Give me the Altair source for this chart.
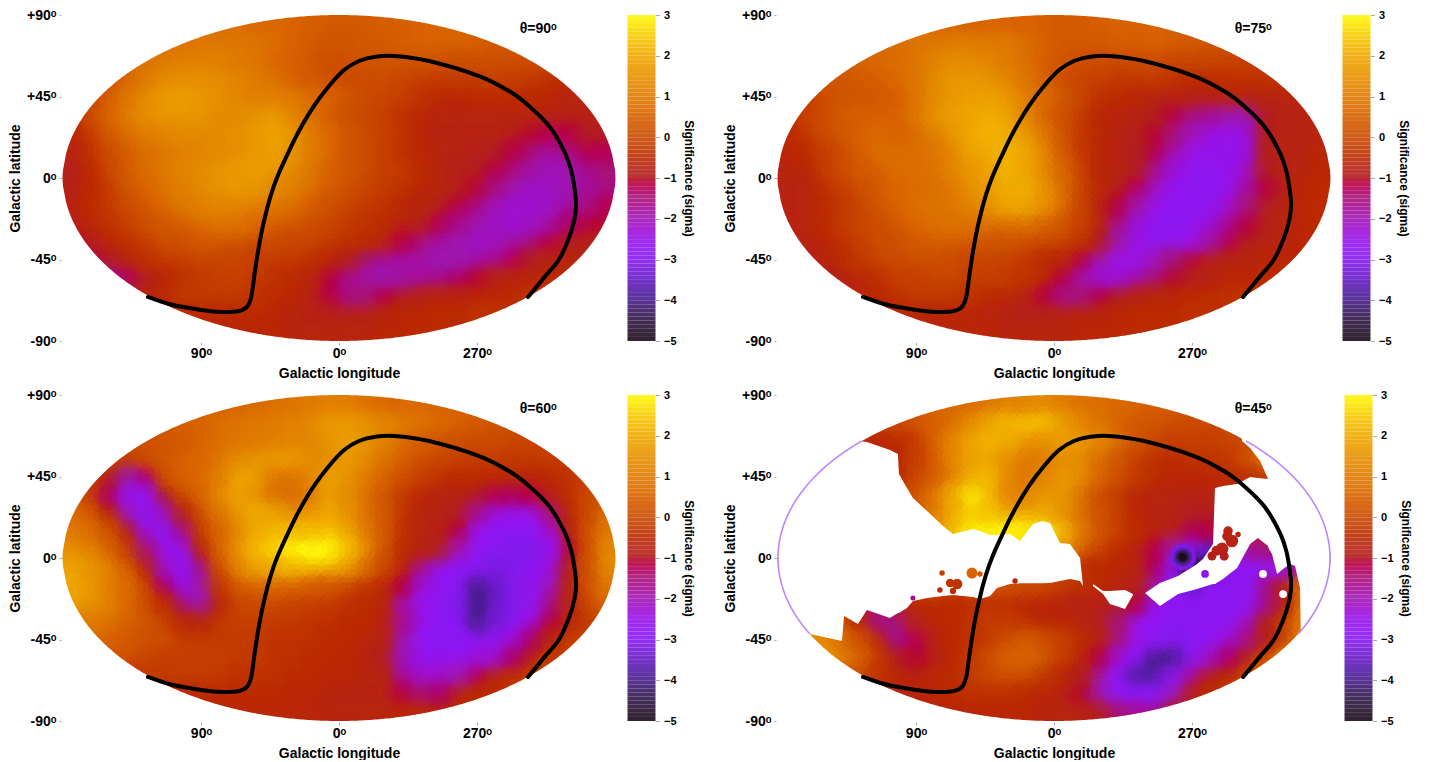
import altair as alt
import numpy as np
import pandas as pd

FONT = "Liberation Sans"
panel1 = [
[0.7,0.7,0.6,0.6,0.5,0.4,0.3,0.3,0.3,0.4,0.4,0.5,0.5,0.5],
[0.7,0.8,0.9,0.9,0.9,0.8,0.7,0.5,0.3,0.2,0.2,0.3,0.3,0.4,0.5,0.5,0.5,0.4,0.3,0.2],
[0.5,0.8,1.0,1.1,1.1,1.1,1.0,0.9,0.6,0.4,0.2,0.1,0.1,0.2,0.2,0.2,0.2,0.1,0.1,0.1,0.1,0.1,0,-0.1],
[0.2,0.6,1.0,1.3,1.4,1.4,1.3,1.2,1.0,0.8,0.5,0.3,0.1,0,0,0,-0.1,-0.2,-0.3,-0.3,-0.3,-0.2,-0.2,-0.3,-0.4,-0.5],
[-0.1,0.4,0.9,1.3,1.6,1.7,1.6,1.4,1.2,1.1,1.1,1,0.7,0.4,0.2,0,-0.1,-0.2,-0.4,-0.5,-0.6,-0.5,-0.5,-0.5,-0.5,-0.6,-0.7,-0.7],
[-0.4,0,0.5,1,1.4,1.6,1.6,1.5,1.3,1.3,1.5,1.6,1.2,0.8,0.4,0.1,-0.1,-0.2,-0.4,-0.6,-0.7,-0.7,-0.7,-0.7,-0.7,-0.7,-0.8,-0.8,-0.8,-0.9],
[-0.6,-0.2,0.3,0.7,1,1.2,1.3,1.3,1.3,1.4,1.6,1.8,1.5,1,0.6,0.2,0,-0.2,-0.4,-0.6,-0.8,-0.8,-0.8,-0.8,-0.9,-1.1,-1.3,-1.2,-1,-1],
[-0.8,-0.4,0.1,0.4,0.7,0.9,1.1,1.2,1.3,1.4,1.6,1.7,1.5,1,0.6,0.2,0,-0.2,-0.4,-0.6,-0.7,-0.8,-0.9,-1,-1.2,-1.6,-1.8,-1.6,-1.3,-1.3],
[-0.9,-0.5,-0.1,0.3,0.7,1,1.2,1.3,1.5,1.6,1.7,1.6,1.3,0.9,0.5,0.2,0,-0.2,-0.3,-0.5,-0.7,-0.9,-1,-1.2,-1.6,-1.9,-2.1,-2,-1.7,-1.5],
[-0.9,-0.5,-0.2,0.2,0.5,0.8,1.1,1.3,1.5,1.6,1.5,1.3,1.1,0.7,0.4,0.1,-0.1,-0.3,-0.4,-0.6,-0.7,-0.9,-1.1,-1.6,-2,-2.2,-2.2,-2,-1.8,-1.6],
[-0.8,-0.5,-0.3,0,0.3,0.6,0.9,1.1,1.2,1.2,1.1,0.9,0.7,0.4,0.1,-0.1,-0.3,-0.4,-0.6,-0.7,-0.9,-1.2,-1.7,-2.1,-2.3,-2.3,-2.2,-1.9,-1.6,-1.3],
[-0.9,-0.6,-0.4,-0.2,0.1,0.3,0.5,0.7,0.8,0.8,0.6,0.4,0.3,0,-0.1,-0.3,-0.4,-0.5,-0.7,-0.9,-1.3,-1.7,-2,-2.2,-2.3,-2.2,-1.9,-1.4,-1.2,-1.1],
[-1.1,-0.9,-0.6,-0.4,-0.2,0,0.1,0.3,0.3,0.2,0.1,0,-0.1,-0.1,-0.3,-0.4,-0.5,-0.7,-1.2,-1.6,-1.9,-2,-2.2,-2.1,-1.9,-1.6,-1.2,-1,-0.9,-0.9],
[-1.3,-1.0,-0.7,-0.4,-0.3,-0.2,-0.1,-0.1,-0.1,-0.2,-0.3,-0.3,-0.4,-0.6,-1,-1.5,-1.8,-1.9,-1.9,-2,-2,-1.9,-1.7,-1.3,-1,-0.8,-0.7,-0.7],
[-1.6,-1.4,-1,-0.6,-0.4,-0.3,-0.2,-0.2,-0.3,-0.4,-0.5,-0.7,-1.2,-1.7,-1.9,-2,-1.9,-1.8,-1.7,-1.4,-1.1,-0.8,-0.7,-0.6,-0.5,-0.5],
[-1.0,-0.8,-0.5,-0.3,-0.3,-0.3,-0.3,-0.4,-0.5,-0.6,-0.8,-1.2,-1.6,-1.5,-1.2,-1,-0.9,-0.8,-0.7,-0.6,-0.6,-0.5,-0.4,-0.4],
[-0.7,-0.6,-0.5,-0.5,-0.5,-0.5,-0.6,-0.7,-0.8,-0.9,-0.9,-0.8,-0.7,-0.6,-0.6,-0.5,-0.5,-0.4,-0.4,-0.4],
[-0.7,-0.7,-0.6,-0.6,-0.7,-0.7,-0.7,-0.7,-0.7,-0.6,-0.6,-0.5,-0.5,-0.5],
]
panel2 = [
[0.5,0.5,0.5,0.5,0.5,0.5,0.4,0.3,0.3,0.4,0.5,0.5,0.5,0.5],
[0.6,0.7,0.8,0.9,1,1,1,0.9,0.7,0.5,0.3,0.3,0.3,0.4,0.4,0.5,0.4,0.3,0.2,0.1],
[0.4,0.5,0.6,0.7,0.9,1.1,1.3,1.3,1.2,1,0.7,0.4,0.2,0.1,0,0,0,0,-0.1,-0.1,-0.1,-0.1,-0.2,-0.2],
[0.2,0.2,0.3,0.4,0.6,0.9,1.3,1.6,1.6,1.5,1.2,0.8,0.4,0.1,-0.1,-0.2,-0.3,-0.3,-0.3,-0.4,-0.5,-0.5,-0.4,-0.4,-0.4,-0.4],
[-0.3,0,0.2,0.2,0.3,0.4,0.8,1.3,1.6,1.7,1.8,1.6,1.1,0.6,0.2,-0.1,-0.4,-0.5,-0.6,-0.7,-0.8,-0.9,-0.9,-0.8,-0.7,-0.7,-0.7,-0.7],
[-0.4,-0.2,0,0.3,0.4,0.4,0.5,0.9,1.4,1.7,1.9,2,1.8,1.2,0.6,0.1,-0.3,-0.6,-0.7,-0.8,-1,-1.2,-1.5,-1.8,-2,-2,-1,-0.8,-0.8,-0.7],
[-0.5,-0.3,0,0.2,0.5,0.6,0.5,0.7,1.1,1.5,1.9,2.1,2,1.6,0.9,0.2,-0.3,-0.6,-0.8,-0.9,-1.1,-1.5,-2.1,-2.4,-2.5,-2.4,-1,-0.8,-0.8,-0.7],
[-0.6,-0.5,-0.2,0.1,0.4,0.7,0.7,0.7,0.9,1.3,1.8,2,2.1,1.8,1.1,0.3,-0.3,-0.6,-0.8,-1,-1.3,-1.9,-2.5,-2.7,-2.7,-2.4,-1,-0.8,-0.8,-0.6],
[-0.7,-0.6,-0.3,0,0.3,0.5,0.7,0.7,0.8,1.2,1.6,1.9,2.1,1.9,1.3,0.5,-0.2,-0.6,-0.8,-1,-1.6,-2.4,-2.8,-2.8,-2.7,-2.2,-1,-0.8,-0.7,-0.6],
[-0.8,-0.7,-0.4,-0.2,0.1,0.3,0.6,0.7,0.7,1,1.4,1.7,2,2,1.5,0.7,-0.1,-0.6,-0.9,-1.3,-2.2,-2.7,-2.9,-2.9,-2.6,-1.9,-1.2,-0.9,-0.6,-0.5],
[-0.8,-0.7,-0.5,-0.3,-0.1,0.2,0.5,0.7,0.8,0.9,1.2,1.5,1.8,1.9,1.4,0.6,-0.1,-0.7,-1.2,-2,-2.6,-2.9,-2.9,-2.8,-2.3,-1.5,-1,-0.8,-0.6,-0.5],
[-0.8,-0.7,-0.5,-0.3,-0.1,0.1,0.3,0.6,0.7,0.8,0.8,0.8,0.9,0.8,0.5,0.2,-0.2,-0.8,-1.6,-2.4,-2.8,-2.9,-2.8,-2.4,-1.7,-1.2,-0.9,-0.7,-0.6,-0.5],
[-0.8,-0.7,-0.6,-0.4,-0.2,0,0.1,0.3,0.4,0.4,0.3,0.2,0.2,0.1,0,-0.1,-0.4,-1,-2,-2.6,-2.8,-2.8,-2.5,-1.9,-1.3,-1,-0.8,-0.7,-0.6,-0.6],
[-0.9,-0.7,-0.5,-0.3,-0.1,0,0.1,0.1,0,-0.1,-0.1,-0.2,-0.3,-0.5,-0.7,-1.2,-2,-2.5,-2.5,-2.1,-1.5,-1.1,-0.9,-0.8,-0.7,-0.6,-0.6,-0.6],
[-1,-0.8,-0.6,-0.4,-0.2,-0.2,-0.1,-0.1,-0.2,-0.2,-0.3,-0.4,-0.6,-1.2,-1.9,-2.3,-2.3,-1.9,-1.5,-1.1,-0.9,-0.8,-0.6,-0.6,-0.5,-0.5],
[-0.9,-0.7,-0.5,-0.4,-0.3,-0.3,-0.3,-0.4,-0.5,-0.6,-0.8,-1.2,-1.6,-1.5,-1.2,-1,-0.9,-0.7,-0.6,-0.5,-0.5,-0.4,-0.4,-0.4],
[-0.7,-0.6,-0.6,-0.6,-0.6,-0.6,-0.7,-0.8,-0.9,-0.9,-0.8,-0.7,-0.7,-0.6,-0.5,-0.5,-0.5,-0.4,-0.4,-0.4],
[-0.7,-0.7,-0.6,-0.6,-0.7,-0.7,-0.7,-0.7,-0.6,-0.6,-0.6,-0.5,-0.5,-0.5],
]
panel3 = [
[0.4,0.5,0.6,0.7,0.8,1,1.1,1,0.8,0.6,0.6,0.6,0.5,0.5],
[0.3,0.4,0.5,0.7,0.8,0.9,1,1.1,1.3,1.6,1.6,1.4,1.2,1,0.8,0.6,0.5,0.3,0.2,0.1],
[0,0.1,0.2,0.3,0.5,0.7,0.9,1,1.1,1.2,1.2,1.5,1.7,1.5,1.1,0.7,0.4,0.2,0.1,0,0,-0.1,-0.1,-0.2],
[-0.2,-0.2,0,0.2,0.4,0.6,0.9,1.3,1.5,1.6,1.6,1.3,1.4,1.6,1.3,0.8,0.4,0.1,-0.1,-0.2,-0.3,-0.3,-0.3,-0.3,-0.3,-0.3],
[-0.3,-1,-2,-1.4,0,0.4,0.6,1.1,1.8,1.7,0.9,0.8,1.2,1.7,1.5,1,0.5,0.1,-0.2,-0.4,-0.5,-0.5,-0.6,-0.6,-0.6,-0.5,-0.4,-0.2],
[0.2,-0.2,-1.4,-2.6,-2.6,-1,0,0.5,1.2,1.8,1.4,0.8,0.7,1.1,1.7,1.3,0.7,0.2,-0.3,-0.6,-0.7,-0.8,-1,-1.3,-1.4,-1.2,-0.8,-0.4,-0.1,0.3],
[0.6,0.2,-0.5,-2,-2.8,-2.2,-0.7,0.2,0.8,1.5,2,1.7,1.4,1.6,1.9,1.5,0.8,0.2,-0.4,-0.7,-0.8,-1,-1.8,-2.4,-2.5,-2.5,-1.6,-0.6,0,0.7],
[1,0.7,0.1,-1,-2.4,-2.8,-1.8,-0.3,0.6,1.3,1.9,2.2,2.2,2.2,2.3,1.9,1,0.3,-0.4,-0.7,-0.9,-1.2,-2.6,-2.9,-3,-2.9,-2.3,-0.9,0.1,1],
[1.4,1.1,0.6,-0.2,-1.5,-2.6,-2.6,-0.8,0.4,1.4,2.2,2.6,2.9,3,2.9,2.2,1.2,0.2,-0.5,-0.8,-1,-2.1,-2.9,-3,-3.1,-3.1,-2.6,-1.1,0.1,1.2],
[1.8,1.5,1,0.4,-0.7,-2.2,-2.7,-1.5,0.1,1.1,1.7,2,2.2,2.3,2.2,1.6,0.7,-0.1,-0.7,-1.6,-2.7,-3,-3,-3.2,-3.1,-3,-2.4,-1,0.2,1.3],
[1.9,1.6,1.1,0.6,-0.2,-1.4,-2.4,-2,-0.3,0.4,0.6,0.6,0.5,0.4,0.3,0,-0.3,-0.6,-1.2,-2.4,-2.8,-3,-4,-3.5,-3.1,-2.7,-2,-0.8,0.1,0.9],
[1.7,1.5,1.1,0.6,0.1,-0.5,-1.6,-2,-0.7,-0.1,0,0,-0.1,-0.2,-0.3,-0.4,-0.5,-0.7,-1.9,-2.6,-2.9,-3.2,-4.1,-3.5,-3.1,-2.8,-1.7,-0.7,0,0.5],
[1.2,1,0.8,0.5,0.2,-0.1,-0.6,-0.7,-0.3,-0.2,-0.2,-0.3,-0.3,-0.4,-0.4,-0.5,-0.5,-0.8,-1.8,-2.7,-2.9,-3,-4,-3.3,-3,-2.4,-1.2,-0.7,-0.3,0],
[0.7,0.5,0.3,0.1,0,-0.2,-0.3,-0.3,-0.3,-0.3,-0.4,-0.4,-0.4,-0.5,-0.5,-0.7,-0.8,-2,-2.8,-3,-3,-2.9,-2.8,-2.4,-1.4,-0.6,-0.2,-0.2],
[0.2,0.1,-0.1,-0.2,-0.2,-0.2,-0.2,-0.3,-0.3,-0.4,-0.4,-0.5,-0.5,-0.6,-0.7,-1,-2.2,-2.7,-2.7,-2.6,-2.4,-2.3,-1.4,-0.6,-0.3,-0.3],
[-0.4,-0.3,-0.3,-0.3,-0.3,-0.3,-0.4,-0.4,-0.4,-0.5,-0.5,-0.6,-0.6,-0.7,-0.8,-1.8,-2.3,-2.3,-2,-1.3,-0.7,-0.4,-0.3,-0.3],
[-0.6,-0.6,-0.5,-0.5,-0.5,-0.5,-0.5,-0.6,-0.6,-0.7,-0.8,-0.8,-0.8,-1.2,-1.5,-1.4,-0.7,-0.5,-0.5,-0.4],
[-0.7,-0.6,-0.6,-0.6,-0.6,-0.6,-0.7,-0.7,-0.7,-0.7,-0.6,-0.6,-0.6,-0.5],
]
panel4 = [
[0.6,0.6,0.6,0.9,1.1,1.2,1.3,1,0.8,0.7,0.6,0.5,0.4,0.4],
[-0.1,0,0.2,0.4,0.7,1.3,1.8,2.1,2.3,2.2,1.7,1.2,0.8,0.5,0.3,0.2,0.1,0,0,0],
[-0.7,-0.7,-0.6,-0.5,-0.2,0.4,1.2,1.8,2.1,2,1.6,1.4,1.7,1.6,1.2,0.7,0.2,-0.1,-0.2,-0.2,-0.2,-0.1,0,0.1],
[-0.8,-0.8,-0.8,-0.8,-0.6,-0.2,0.4,1.2,1.8,1.9,1.4,1,1.1,1.4,1.3,0.7,0.2,-0.2,-0.4,-0.5,-0.4,-0.4,-0.3,0.2,0.6,0.4],
[-0.8,-0.8,-0.8,-0.8,-0.7,-0.5,-0.1,0.4,1.2,2,2.2,1.3,0.9,1.2,1.6,1.3,0.6,0.1,-0.3,-0.5,-0.6,-0.6,-0.6,-0.5,-0.4,-0.3,-0.2,0],
[-0.8,-0.8,-0.8,-0.8,-0.8,-0.7,-0.3,0.2,0.9,2,2.8,2.2,1.2,1.2,1.6,1.5,0.7,0.1,-0.3,-0.6,-0.7,-0.7,-0.8,-0.8,-0.8,-0.7,-0.6,-0.4,-0.2,0],
[-0.8,-0.8,-0.8,-0.6,-0.5,-0.5,-0.2,0.3,1,2,2.5,2.3,1.9,1.9,2,1.5,0.8,0.1,-0.2,-0.6,-0.8,-0.8,-1,-1,-1,-0.7,-0.6,-0.4,-0.2,0],
[0,0,0,0,0.3,0.5,0.5,1,1.6,2.3,2.8,2.9,2.9,2.8,2.8,2.2,1,0.2,-0.2,-0.5,-0.8,-0.9,-1.4,-1.2,-1,-0.7,-0.5,-0.5,-0.5,-0.5],
[0,0,0,0,0.3,0.5,0.5,0.8,1.5,2,2.3,2.7,2.5,2.3,2.4,1.5,0.5,-0.1,-0.5,-0.7,-1.2,-2,-3,-3.6,-2.6,-1.9,-1.5,-1.2,-1,-0.7],
[0.5,0.4,0.2,0.2,0.3,0.4,0.5,0.5,0.5,0.4,0.4,0.3,0.2,0.1,0,-0.2,-0.4,-0.5,-0.6,-0.7,-1.4,-2.8,-4.8,-3.8,-2.7,-2.8,-2.9,-2.5,-1.5,-0.7],
[0.6,0.4,0.2,0,-0.2,-0.6,0,0.3,0.2,0.2,0.2,0.1,0.1,0,-0.1,-0.3,-0.4,-0.5,-0.7,-0.9,-2,-3,-3.5,-2.9,-2.9,-2.9,-1.6,-1,0.8,1.5],
[0.7,0.5,0.2,-0.2,-0.8,-1.5,-0.8,-0.5,-0.5,-0.5,-0.4,-0.4,-0.4,-0.6,-0.6,-0.7,-0.8,-0.9,-1,-1.2,-2.7,-2.9,-3,-3,-2.9,-2.8,-1.8,-0.8,1,1.5],
[1,0.8,0.5,0,-0.8,-1.6,-1.5,-0.8,-0.6,-0.5,-0.4,-0.3,-0.3,-0.4,-0.6,-0.6,-0.7,-0.9,-1.5,-2.5,-2.9,-3,-3,-2.9,-2.8,-2.2,-1,-0.2,1,1.5],
[1.6,1.2,0.7,0.1,-0.7,-1.7,-1.3,-0.8,-0.5,-0.4,-0.2,0.1,0.3,0.1,-0.2,-0.5,-0.8,-1.5,-2.6,-2.9,-3.1,-3,-2.8,-2.4,-1.6,-0.9,0,1],
[1.5,1,0.5,-0.3,-1,-1.1,-0.8,-0.6,-0.3,0,0.4,0.5,0.2,-0.2,-0.6,-1.2,-2.4,-3,-4,-4,-2.9,-2.2,-1.4,-0.7,0,1],
[0.4,0,-0.4,-0.6,-0.7,-0.6,-0.5,-0.3,0,0.1,0,-0.3,-0.6,-1,-2,-2.9,-3.8,-3.8,-2.8,-1.7,-0.9,-0.5,-0.1,0.5],
[-0.7,-0.7,-0.7,-0.6,-0.5,-0.4,-0.4,-0.4,-0.5,-0.6,-0.8,-1.1,-2,-2.9,-3,-2.9,-2,-0.9,-0.5,-0.3],
[-0.7,-0.7,-0.6,-0.6,-0.6,-0.6,-0.7,-0.7,-0.8,-1,-1.5,-1.8,-1.6,-1],
]

# black curve, in map degrees
curve_lon = [124.6,110.9,97.8,84.8,75,65.2,60,57.4,56.1,54.8,52.2,48.9,44.6,40,32.6,26.1,16.3,6.5,-3.3,-13,-22.8,-35.9,-58.7,-91.3,-110.9,-123.9,-137,-146.8,-151.5,-154,-154.6,-153.5,-150,-143.5,-133.7,-123.3]
curve_lat = [-65.7,-69.6,-71.8,-73.4,-74,-73.4,-71.2,-66.3,-59.6,-51.4,-37.5,-23.7,-9.9,1.1,14.9,26,39.8,50.8,59.6,64.6,66.8,67.4,64.6,56.3,48,39.8,28.7,14.9,3.9,-8,-15.5,-23,-33,-45,-55,-65.7]

# no-data regions of the theta=45 panel
hole_a_lon = [180,159.2,138.3,136.9,127.9,122,107,101.8,101.1,95.9,92,82.8,72.4,65.9,52.8,48.3,41.7,37.2,28.7,22.2,13.7,7.8,2.6,-3.9,-10.4,-17,-18.9]
hole_a_top = [64.6,64.6,64.6,64.6,64.6,64,59.6,57.4,46.4,38.7,33.1,25.9,17.7,13.3,16,14.9,12.7,12.7,13.3,9.4,18.8,20.4,19.3,8.3,7.7,0,-15.5]
hole_a_bot = [-42,-42,-45.8,-32,-36.4,-28.7,-33.1,-30.4,-30.4,-27.6,-23.7,-22.1,-21,-20.4,-21.5,-22.6,-21,-16.6,-14.4,-14,-14,-14,-13.8,-12.7,-11.6,-12.7,-15.5]
hole_b_lon = [-25.4,-32,-36.5,-46.3,-51.5]
hole_b_top = [-14.4,-18.2,-18.2,-17.7,-19.9]
hole_b_bot = [-15.5,-19.9,-25.4,-28.2,-20.4]
hole_c_lon = [-59.4,-69.1,-80.9,-93.3,-97.2,-103.7,-105,-110.2,-119.4,-127.9,-133,-139.6,-140.2,-142.2,-145.5,-149.4,-153.9,-157.2,-160.5,-161.8,-180]
hole_c_top = [-19.3,-13.8,-9.9,-3.3,-0.6,7.7,38.7,39.8,40.9,44.7,44.2,43.6,70,70,70,70,70,70,70,70,70]
hole_c_bot = [-19.3,-26.5,-19.9,-17.1,-16,-14.4,-14.4,-11.6,-5.5,7.7,11,6.6,5,2.2,-8.8,-6.1,-3.3,-4.4,-16.6,-90,-90]
hole_d_lon = [-122.6,-127.9,-134.4,-139.6,-141]
hole_d_bot = [64.6,60.7,53.6,43.6,43]
island_lon = [73,67.8,63.2,74.4,65.9,53.5,48.3,25.4,92,-98.5,-113.5,-116,-109.6,-103,-120,-111,-106,-113,-84,-84,-84,-84]
island_lat = [-8.3,-13.8,-14.4,-17.7,-18.2,-8.3,-8.8,-12.7,-22.1,-8.8,14.9,9.4,5,1.1,13,1,4,12,0.5,0.5,0.5,0.5]
island_val = [-0.2,-0.4,-0.4,-0.6,-0.5,0.5,0.2,-0.7,-1.8,-2.9,-0.7,-0.8,-0.8,-0.9,-0.7,-0.9,-0.9,-0.8,-3.2,-3.8,-4.4,-5]
island_size = [30,70,110,30,40,120,30,30,25,60,90,160,160,80,30,80,100,100,700,350,180,70]
speck_lon = [-136.3,-149.4]
speck_lat = [-8.8,-19.9]

thetas = ["θ=90ᵒ","θ=75ᵒ","θ=60ᵒ","θ=45ᵒ"]
stops = [-5,-4.5,-4,-3.5,-3,-2.5,-2,-1.5,-1,-0.5,0,0.5,1,1.5,2,2.5,3]
stop_colors = ["#1c0c1c","#2e1848","#4a1e90","#6a1cc8","#8a18f5","#9a14e8","#a018b0","#a81478","#b41e1e","#bc2c00","#cc4c00","#d86400","#e07c00","#e89400","#f0ac00","#f8d000","#ffff10"]
bar_levels = [v / 10 for v in range(-50, 30)]
lat_ticks = [90, 45, 0, -45, -90]
lon_ticks = [90, 0, -90]

color_scale = alt.Scale(domain=stops, range=stop_colors, clamp=True)
X = alt.Scale(domain=[180, -180], nice=False)
Y = alt.Scale(domain=[-90, 90], nice=False)


def cells(rows):
    out = []
    for i, r in enumerate(rows):
        lat = 85 - 10 * i
        n = len(r)
        for j, v in enumerate(r):
            lon = -(j - (n - 1) / 2) * 12
            out.append(dict(lon=lon, lon0=lon - 6, lon1=lon + 6, lat=lat, lat0=lat - 5, lat1=lat + 5, v=v,
                            o=(i * 7 + j * 13) % 11))
    return pd.DataFrame(out).sort_values("o")


edge_x = np.linspace(-181, 181, 249)
edge_y = 90 * np.sqrt(np.clip(1 - (edge_x / 180) ** 2, 0, 1))
mask_df = pd.DataFrame(dict(x=edge_x, hi=edge_y, lo=-edge_y, top=91.0, bottom=-91.0))


def map_panel(rows, theta, masked=False):
    d = cells(rows)
    c = alt.Color("v:Q", scale=color_scale, legend=None)
    base = alt.Chart(d).mark_rect(strokeWidth=0.8).encode(
        x=alt.X("lon0:Q", scale=X,
                axis=alt.Axis(values=lon_ticks, title="Galactic longitude", grid=False, domain=False,
                              labelExpr="(datum.value<0?datum.value+360:datum.value)+'ᵒ'",
                              tickColor="#aaaaaa", tickSize=4, labelFont=FONT, labelFontWeight="bold",
                              labelFontSize=14, labelColor="black", titleFont=FONT, titleFontWeight="bold",
                              titleFontSize=14, titleColor="black", labelPadding=1, titlePadding=6)),
        x2="lon1:Q",
        y=alt.Y("lat0:Q", scale=Y,
                axis=alt.Axis(values=lat_ticks, title="Galactic latitude", grid=False, domain=False,
                              labelExpr="(datum.value>0?'+':'')+datum.value+'ᵒ'",
                              tickColor="#aaaaaa", tickSize=4, labelFont=FONT, labelFontWeight="bold",
                              labelFontSize=14, labelColor="black", titleFont=FONT, titleFontWeight="bold",
                              titleFontSize=14, titleColor="black", labelPadding=3, titlePadding=4)),
        y2="lat1:Q", fill=c, stroke=c)

    def blur(size, op):
        return alt.Chart(d).mark_circle(clip=True, opacity=op, size=size).encode(
            x=alt.X("lon:Q", scale=X), y=alt.Y("lat:Q", scale=Y), color=c)

    def white(df, x, y, y2):
        return alt.Chart(df).mark_area(color="white", opacity=1).encode(
            x=alt.X(x + ":Q", scale=X), y=alt.Y(y + ":Q", scale=Y), y2=alt.Y2(y2 + ":Q"))

    layers = [base, blur(1800, 0.3), blur(1000, 0.3), blur(500, 0.25),
              white(mask_df, "x", "hi", "top"), white(mask_df, "x", "lo", "bottom")]
    if masked:
        layers.append(white(pd.DataFrame(dict(x=hole_a_lon, t=hole_a_top, b=hole_a_bot)), "x", "t", "b"))
        layers.append(white(pd.DataFrame(dict(x=hole_b_lon, t=hole_b_top, b=hole_b_bot)), "x", "t", "b"))
        layers.append(white(pd.DataFrame(dict(x=hole_c_lon, t=hole_c_top, b=hole_c_bot)), "x", "t", "b"))
        layers.append(white(pd.DataFrame(dict(x=hole_d_lon, t=[80.0] * 5, b=hole_d_bot)), "x", "t", "b"))
        isl = pd.DataFrame(dict(lon=island_lon, lat=island_lat, v=island_val, s=island_size))
        layers.append(alt.Chart(isl).mark_circle(opacity=1).encode(
            x=alt.X("lon:Q", scale=X), y=alt.Y("lat:Q", scale=Y), color=c,
            size=alt.Size("s:Q", scale=None, legend=None)))
        sp = pd.DataFrame(dict(lon=speck_lon, lat=speck_lat))
        layers.append(alt.Chart(sp).mark_circle(color="white", opacity=1, size=60).encode(
            x=alt.X("lon:Q", scale=X), y=alt.Y("lat:Q", scale=Y)))
        lats = np.linspace(-42, 64.6, 120)
        hw = 180 * np.sqrt(1 - (lats / 90) ** 2)
        for sgn in (1, -1):
            arc = pd.DataFrame(dict(lon=sgn * hw, lat=lats, o=np.arange(len(lats))))
            layers.append(alt.Chart(arc).mark_line(color="#bb88ff", strokeWidth=1.6).encode(
                x=alt.X("lon:Q", scale=X), y=alt.Y("lat:Q", scale=Y), order="o:Q"))
    cv = pd.DataFrame(dict(lon=curve_lon, lat=curve_lat, o=range(len(curve_lon))))
    layers.append(alt.Chart(cv).mark_line(color="black", strokeWidth=4, strokeCap="round", interpolate="cardinal").encode(
        x=alt.X("lon:Q", scale=X), y=alt.Y("lat:Q", scale=Y), order="o:Q"))
    layers.append(alt.Chart(pd.DataFrame(dict(lon=[-130.0], lat=[82.5], t=[theta]))).mark_text(
        font=FONT, fontWeight="bold", fontSize=14, color="black").encode(
        x=alt.X("lon:Q", scale=X), y=alt.Y("lat:Q", scale=Y), text="t:N"))
    return alt.layer(*layers).properties(width=552, height=326)


def bar_panel():
    d = pd.DataFrame(dict(v=bar_levels))
    d["v1"] = d["v"] + 0.1
    return alt.Chart(d).mark_rect(opacity=0.9).encode(
        y=alt.Y("v:Q", scale=alt.Scale(domain=[-5, 3], nice=False),
                axis=alt.Axis(orient="right", values=list(range(-5, 4)), title="Significance (sigma)",
                              grid=False, domain=False, tickColor="#aaaaaa", tickSize=4,
                              labelFont=FONT, labelFontWeight="bold", labelFontSize=11, labelColor="black",
                              titleFont=FONT, titleFontWeight="bold", titleFontSize=12, titleColor="black",
                              titlePadding=5, labelPadding=4)),
        y2="v1:Q",
        color=alt.Color("v:Q", scale=color_scale, legend=None),
    ).properties(width=28, height=326)


def pair(rows, theta, masked=False):
    return alt.hconcat(map_panel(rows, theta, masked), bar_panel(), spacing=10.5)


row1 = alt.hconcat(pair(panel1, thetas[0]), pair(panel2, thetas[1]), spacing=28)
row2 = alt.hconcat(pair(panel3, thetas[2]), pair(panel4, thetas[3], True), spacing=28)
chart = alt.vconcat(row1, row2, spacing=8).properties(
    padding={"left": 0, "top": 0, "right": 0, "bottom": 0}
).configure_view(stroke=None).resolve_scale(color="independent")
chart.save("out.html", embed_options={"renderer": "svg", "actions": False})
